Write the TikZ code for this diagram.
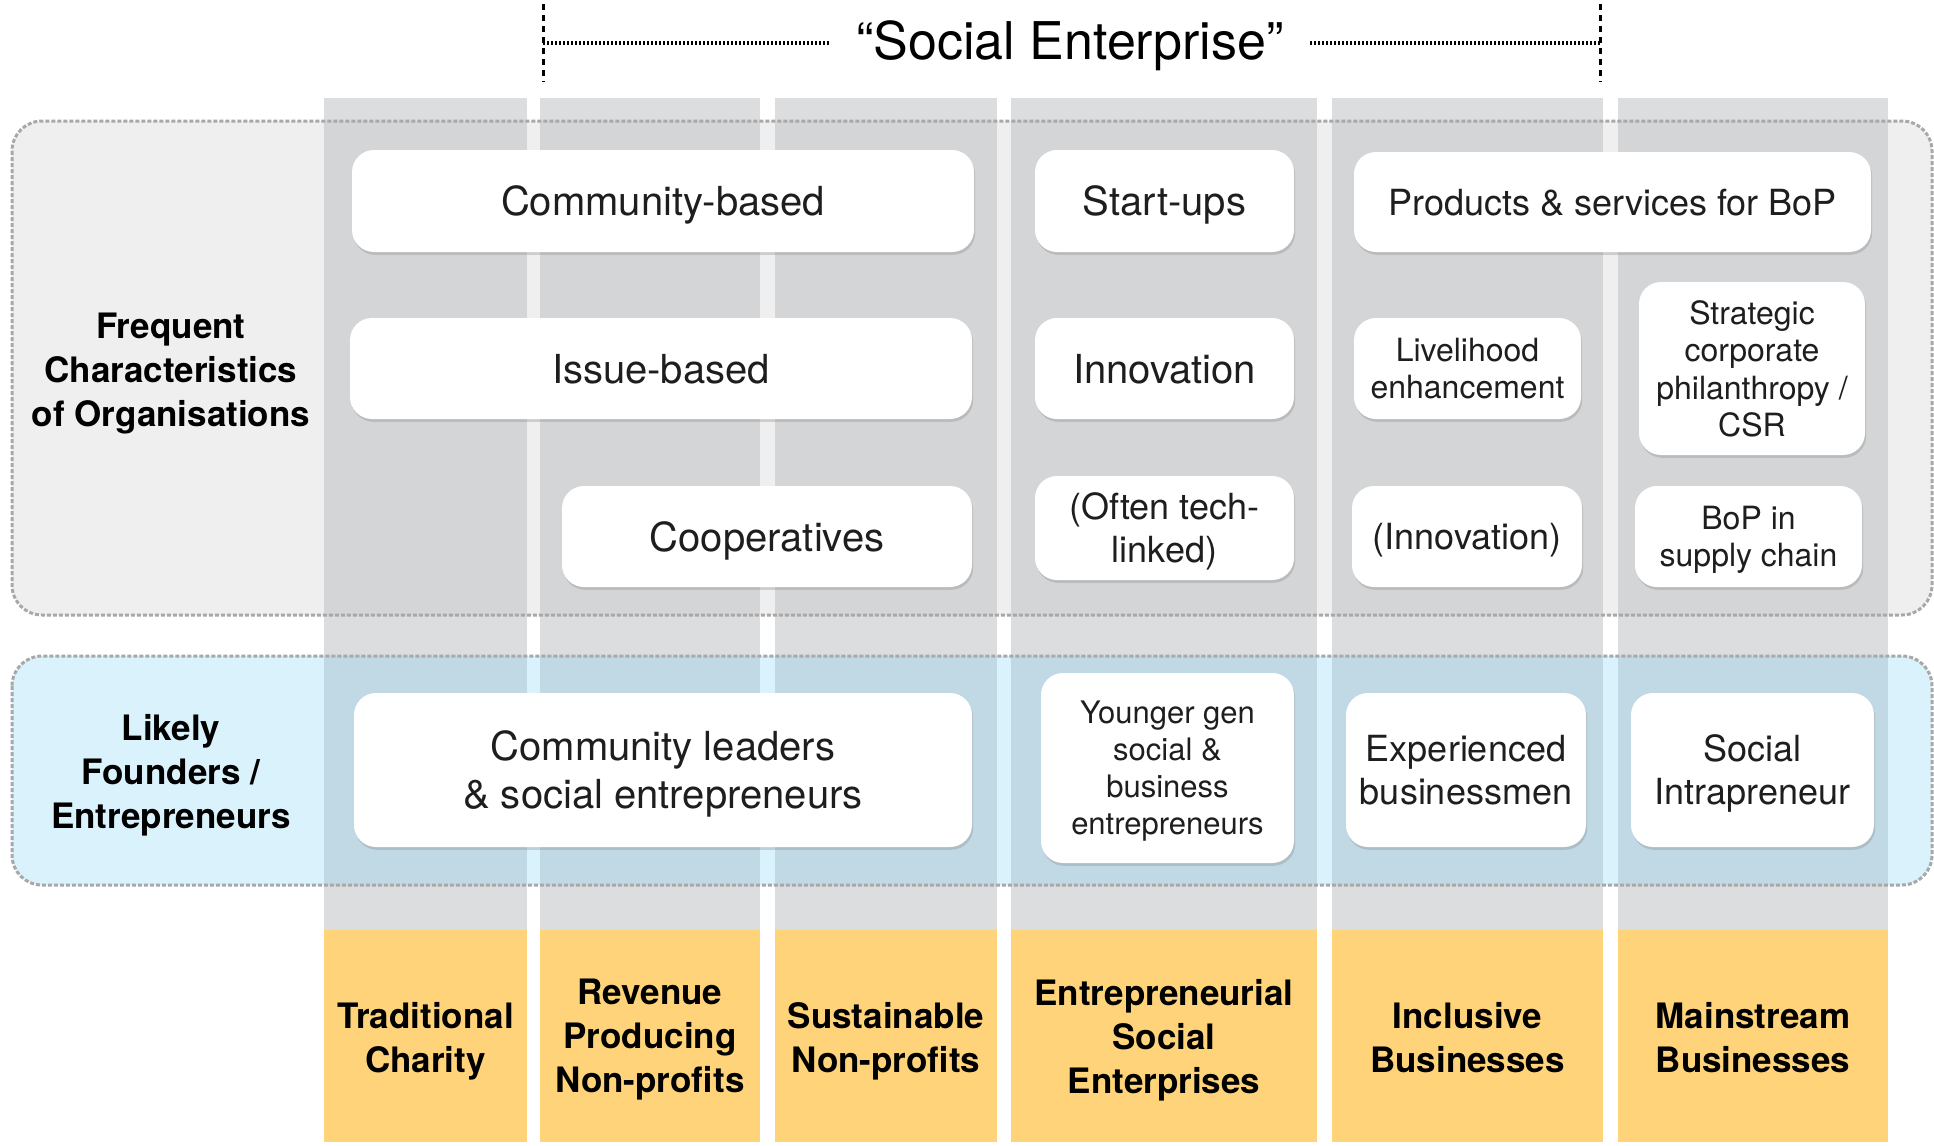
\documentclass[tikz,border=0pt]{standalone}
\usepackage{fontspec}
\setmainfont{TeX Gyre Heros}
\usetikzlibrary{shadows}

\definecolor{colgray}{RGB}{220,221,223}
\definecolor{panelgray}{RGB}{187,187,187}
\definecolor{panelblue}{RGB}{129,210,245}
\definecolor{typeyellow}{RGB}{254,211,122}
\definecolor{dotgray}{RGB}{168,168,168}
\definecolor{boxtext}{RGB}{30,30,30}

\tikzset{
  card/.style={fill=white, rounded corners=11pt, align=center, text=boxtext, inner sep=2pt, text depth=0pt,
    drop shadow={shadow xshift=0.6pt, shadow yshift=-1.4pt, opacity=0.3}},
  bigtxt/.style={font=\fontsize{20}{24}\selectfont},
  midtxt/.style={font=\fontsize{18}{21.5}\selectfont},
  smalltxt/.style={font=\fontsize{16}{18.8}\selectfont},
  rowlabel/.style={align=center, text depth=0pt, font=\bfseries\fontsize{17.5}{22}\selectfont},
  typelabel/.style={align=center, text depth=0pt, font=\bfseries\fontsize{17.5}{22}\selectfont},
  panelline/.style={draw=dotgray, line width=1.5pt, dash pattern=on 2pt off 1pt, rounded corners=15pt}
}

\begin{document}
\begin{tikzpicture}[x=0.5pt, y=-0.5pt]
\useasboundingbox (0,0) rectangle (1934,1146);

% the six organisation types, grey above, yellow below
\foreach \l/\r in {324/527, 540/760, 775/997, 1011/1317, 1332/1603, 1618/1888} {
  \fill[colgray] (\l,98) rectangle (\r,930);
  \fill[typeyellow] (\l,930) rectangle (\r,1142);
}

% the two bands
\path[fill=panelgray, fill opacity=0.235, rounded corners=15pt] (12,121) rectangle (1932,615);
\draw[panelline] (12,121) rectangle (1932,615);
\path[fill=panelblue, fill opacity=0.29, rounded corners=15pt] (12,656) rectangle (1932,885);
\draw[panelline] (12,656) rectangle (1932,885);

% "Social Enterprise" bracket
\node[text depth=0pt, inner xsep=13pt] (title) at (1070,40) {\fontsize{26}{30}\selectfont “Social Enterprise”};
\coordinate (brlt) at (543,4);
\coordinate (brlb) at (543,82);
\coordinate (brrt) at (1600,4);
\coordinate (brrb) at (1600,82);
\coordinate (brlm) at (543,43);
\coordinate (brrm) at (1600,43);
\draw[line width=1.5pt, dash pattern=on 3pt off 2.5pt] (brlt) -- (brlb);
\draw[line width=1.5pt, dash pattern=on 3pt off 2.5pt] (brrt) -- (brrb);
\draw[line width=2pt, dash pattern=on 1pt off 1pt] (brlm) -- (brlm -| title.west);
\draw[line width=2pt, dash pattern=on 1pt off 1pt] (brrm -| title.east) -- (brrm);

% row labels
\node[rowlabel] (charlabel) at (171,370) {Frequent\\Characteristics\\of Organisations};
\node[rowlabel] (foundlabel) at (171,771) {Likely\\Founders /\\Entrepreneurs};

% characteristics
\node[card, bigtxt, minimum width=311pt, minimum height=51pt] (combased) at (663,201) {Community-based};
\node[card, bigtxt, minimum width=129.5pt, minimum height=51pt] (startups) at (1164.5,201) {Start-ups};
\node[card, midtxt, minimum width=258.5pt, minimum height=50pt] (bopprod) at (1612.5,202) {Products \& services for BoP};
\node[card, bigtxt, minimum width=311pt, minimum height=50.5pt] (issue) at (661,368.5) {Issue-based};
\node[card, bigtxt, minimum width=129.5pt, minimum height=50.5pt] (innov) at (1164.5,368.5) {Innovation};
\node[card, smalltxt, minimum width=113.5pt, minimum height=50.5pt] (liveli) at (1467.5,368.5) {Livelihood\\enhancement};
\node[card, smalltxt, minimum width=113pt, minimum height=86.5pt] (csr) at (1752,368.5) {Strategic\\corporate\\philanthropy /\\CSR};
\node[card, bigtxt, minimum width=205pt, minimum height=50.5pt] (coop) at (767,536.5) {Cooperatives};
\node[card, midtxt, minimum width=129.5pt, minimum height=52pt] (techlink) at (1164.5,528) {(Often tech-\\linked)};
\node[card, midtxt, minimum width=115pt, minimum height=50.5pt] (innovtwo) at (1467,536.5) {(Innovation)};
\node[card, smalltxt, minimum width=113.5pt, minimum height=50.5pt] (bopsupply) at (1748.5,536.5) {BoP in\\supply chain};

% founders
\node[card, font=\fontsize{20}{24}\selectfont, minimum width=309pt, minimum height=77pt] (commlead) at (663,770) {Community leaders\\\& social entrepreneurs};
\node[card, font=\fontsize{15.5}{18.5}\selectfont, minimum width=126.5pt, minimum height=95pt] (younger) at (1167.5,768) {Younger gen\\social \&\\business\\entrepreneurs};
\node[card, midtxt, minimum width=120pt, minimum height=77pt] (expbus) at (1466,770) {Experienced\\businessmen};
\node[card, midtxt, minimum width=121.5pt, minimum height=77pt] (intra) at (1752.5,770) {Social\\Intrapreneur};

% organisation types
\node[typelabel] (tradchar) at (425.5,1037) {Traditional\\Charity};
\node[typelabel] (revnp) at (650,1036) {Revenue\\Producing\\Non-profits};
\node[typelabel] (sustnp) at (886,1037) {Sustainable\\Non-profits};
\node[typelabel] (entsoc) at (1164,1036) {Entrepreneurial\\Social\\Enterprises};
\node[typelabel] (inclbus) at (1467.5,1037) {Inclusive\\Businesses};
\node[typelabel] (mainbus) at (1753,1037) {Mainstream\\Businesses};
\end{tikzpicture}
\end{document}
